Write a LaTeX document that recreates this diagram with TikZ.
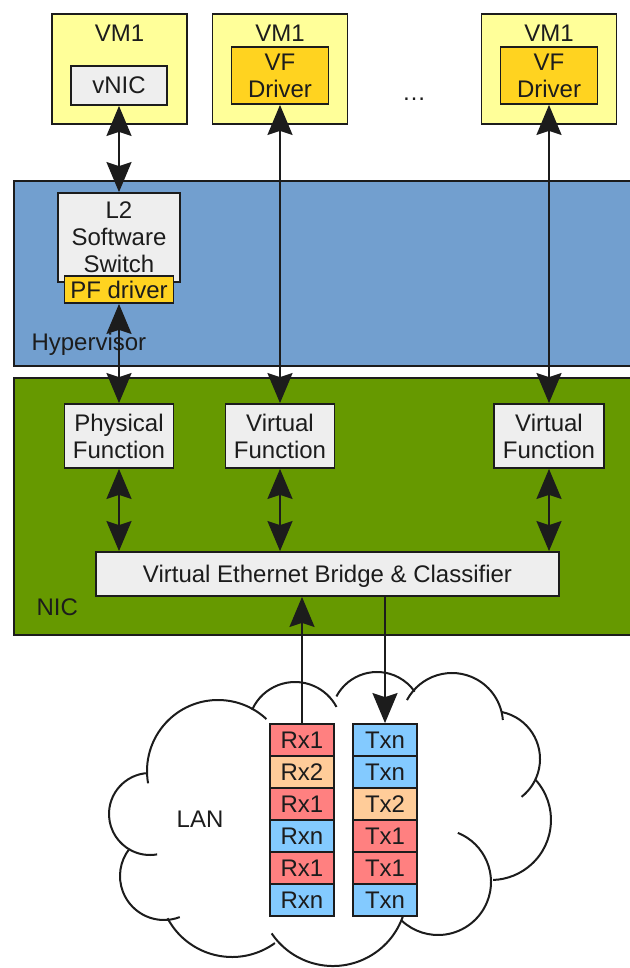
\documentclass[tikz,border=0pt]{standalone}
\usepackage{fontspec}
\setmainfont{Liberation Sans}
\usetikzlibrary{arrows.meta}

\definecolor{ink}{HTML}{1C1C1C}
\definecolor{vmyellow}{HTML}{FFFF99}
\definecolor{gold}{HTML}{FFD320}
\definecolor{boxgray}{HTML}{EEEEEE}
\definecolor{hyper}{HTML}{729FCF}
\definecolor{nicgreen}{HTML}{669900}
\definecolor{pktred}{HTML}{FF8080}
\definecolor{pktorange}{HTML}{FFCC99}
\definecolor{pktblue}{HTML}{83CAFF}

\begin{document}
\begin{tikzpicture}[x=1pt, y=-1pt,
  font=\fontsize{24}{27}\selectfont,
  every node/.style={text=ink},
  band/.style={draw=ink, line width=1.8pt},
  box/.style={draw=ink, line width=1.8pt, inner sep=0pt, align=center},
  link/.style={draw=ink, line width=2pt},
  bigtip/.tip={Stealth[length=30pt, width=25pt, inset=4pt]},
  twoway/.style={link, {bigtip}-{bigtip}},
  oneway/.style={link, -{bigtip}},
  bump/.style={draw=ink, line width=2pt},
  pkt/.style={box, minimum width=64pt, minimum height=32pt},
]
\useasboundingbox (0,0) rectangle (629,968);

% hypervisor and NIC layers
\path[band, fill=hyper] (14,181) rectangle (650,366);
\node[anchor=base west] (hvlabel) at (28,350) {Hypervisor};
\path[band, fill=nicgreen] (14,378) rectangle (650,635);
\node[anchor=base west] (niclabel) at (33,615) {NIC};

% virtual machines
\foreach \n/\x in {1/119.5, 2/280, 3/549}{
  \node[box, fill=vmyellow, minimum width=135pt, minimum height=110pt] (vm\n) at (\x,69) {};
  \node[anchor=base] (vm\n t) at (\x,42) {VM1};
}
\node[box, fill=boxgray, minimum width=96pt, minimum height=39pt] (vnic) at (119,85.5) {vNIC};
\node[box, fill=gold, minimum width=97pt, minimum height=57pt] (vfd2) at (280,75.5) {VF\\Driver};
\node[box, fill=gold, minimum width=97pt, minimum height=57pt] (vfd3) at (549,75.5) {VF\\Driver};
\node[anchor=base] (dots) at (414,101) {…};

% hypervisor switch
\node[box, fill=boxgray, minimum width=122pt, minimum height=89pt] (l2) at (119,237.5) {L2\\Software\\Switch};
\node[box, fill=gold, minimum width=109pt, minimum height=27pt, text depth=0pt] (pfd) at (119,289.5) {PF driver};

% NIC functions
\node[box, fill=boxgray, minimum width=109pt, minimum height=64pt] (pf) at (119,436) {Physical\\Function};
\node[box, fill=boxgray, minimum width=109pt, minimum height=64pt] (vf2) at (280,436) {Virtual\\Function};
\node[box, fill=boxgray, minimum width=110pt, minimum height=64pt] (vf3) at (549,436) {Virtual\\Function};
\node[box, fill=boxgray, minimum width=463pt, minimum height=44pt, text depth=0pt] (veb) at (327.5,574) {Virtual Ethernet Bridge \& Classifier};

% LAN cloud
\foreach \cx/\cy/\r/\a/\b in {
  218/771/71/-47/-190,
  295/729/47/-156/-28,
  377/718/46/-152/-35,
  452/724/51/-152/-4.5,
  492/759/48/-78/52,
  491/820/60/-42/88,
  438/882/53/-68/133,
  333/892/74/18/146,
  232/884/73/152/54,
  164/876/44/69/218,
  150/814/41/267/80}{
  \draw[bump] (\cx,\cy) ++(\a:\r) arc[start angle=\a, end angle=\b, radius=\r];
}
\node[anchor=base] (lan) at (200,827) {LAN};

% packet queues
\foreach \i/\t/\c in {1/Rx1/pktred, 2/Rx2/pktorange, 3/Rx1/pktred, 4/Rxn/pktblue, 5/Rx1/pktred, 6/Rxn/pktblue}{
  \node[pkt, fill=\c] (rx\i) at (302,708+32*\i) {\t};
}
\foreach \i/\t/\c in {1/Txn/pktblue, 2/Txn/pktblue, 3/Tx2/pktorange, 4/Tx1/pktred, 5/Tx1/pktred, 6/Txn/pktblue}{
  \node[pkt, fill=\c] (tx\i) at (385,708+32*\i) {\t};
}

% connections
\draw[twoway] (vnic.south) -- (l2.north);
\draw[twoway] (pfd.south) -- (pf.north);
\draw[twoway] (vfd2.south) -- (vf2.north);
\draw[twoway] (vfd3.south) -- (vf3.north);
\draw[twoway] (pf.south) -- (pf.south |- veb.north);
\draw[twoway] (vf2.south) -- (vf2.south |- veb.north);
\draw[twoway] (vf3.south) -- (vf3.south |- veb.north);
\draw[oneway] (rx1.north) -- (rx1.north |- veb.south);
\draw[oneway] (tx1.north |- veb.south) -- (tx1.north);
\end{tikzpicture}
\end{document}
